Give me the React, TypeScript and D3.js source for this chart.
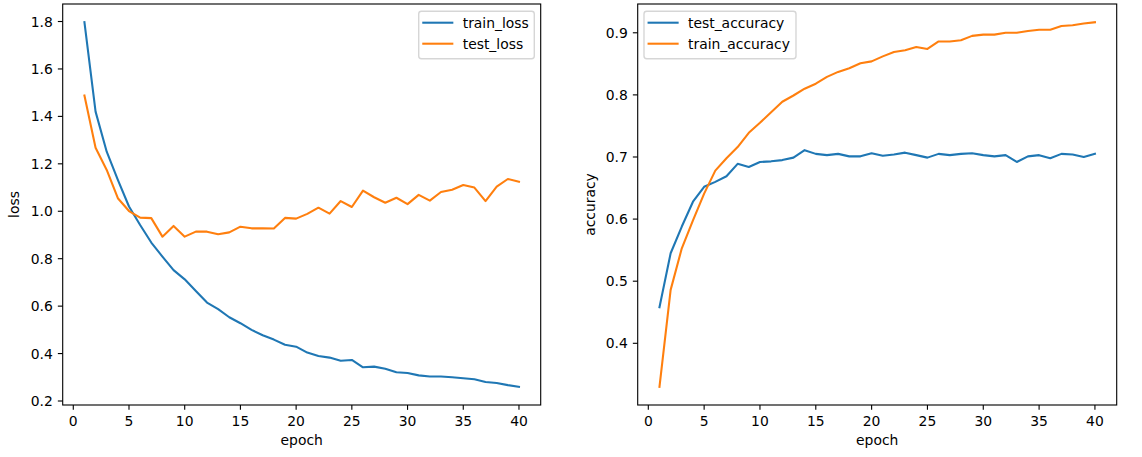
import React from "react";
import * as d3 from "d3";

const epochs = [1,2,3,4,5,6,7,8,9,10,11,12,13,14,15,16,17,18,19,20,21,22,23,24,25,26,27,28,29,30,31,32,33,34,35,36,37,38,39,40];

const trainLoss = [1.797, 1.42, 1.251, 1.132, 1.02, 0.942, 0.868, 0.809, 0.752, 0.713, 0.664, 0.615, 0.587, 0.553, 0.528, 0.5, 0.477, 0.459, 0.437, 0.429, 0.404, 0.39, 0.383, 0.37, 0.373, 0.342, 0.345, 0.336, 0.321, 0.318, 0.308, 0.303, 0.303, 0.3, 0.296, 0.292, 0.28, 0.276, 0.267, 0.26];
const testLoss = [1.488, 1.268, 1.174, 1.055, 1.001, 0.973, 0.971, 0.893, 0.938, 0.893, 0.914, 0.914, 0.903, 0.911, 0.935, 0.928, 0.928, 0.927, 0.972, 0.969, 0.989, 1.015, 0.99, 1.043, 1.018, 1.087, 1.059, 1.036, 1.057, 1.03, 1.069, 1.045, 1.081, 1.091, 1.111, 1.1, 1.043, 1.104, 1.136, 1.124];
const testAcc = [0.458, 0.545, 0.588, 0.628, 0.652, 0.66, 0.669, 0.689, 0.684, 0.692, 0.693, 0.695, 0.699, 0.711, 0.705, 0.703, 0.705, 0.701, 0.701, 0.706, 0.702, 0.704, 0.707, 0.703, 0.699, 0.705, 0.703, 0.705, 0.706, 0.703, 0.701, 0.703, 0.692, 0.701, 0.703, 0.698, 0.705, 0.704, 0.7, 0.705];
const trainAcc = [0.33, 0.486, 0.553, 0.598, 0.641, 0.678, 0.698, 0.716, 0.739, 0.755, 0.772, 0.789, 0.799, 0.81, 0.818, 0.829, 0.837, 0.843, 0.851, 0.854, 0.862, 0.869, 0.872, 0.877, 0.874, 0.886, 0.886, 0.888, 0.895, 0.897, 0.897, 0.9, 0.9, 0.903, 0.905, 0.905, 0.911, 0.912, 0.915, 0.917];

const xTicks = [0, 5, 10, 15, 20, 25, 30, 35, 40];
const lossTicks = [0.2, 0.4, 0.6, 0.8, 1.0, 1.2, 1.4, 1.6, 1.8];
const accTicks = [0.4, 0.5, 0.6, 0.7, 0.8, 0.9];

const BLUE = "#1f77b4";
const ORANGE = "#ff7f0e";
const FONT = "DejaVu Sans";
const FS = 13.9;

type Series = { name: string; values: number[]; color: string };

function Panel(props: {
  left: number; right: number; top: number; bottom: number;
  series: Series[]; yTicks: number[]; yFmt: (v: number) => string;
  ylabel: string; ylabelX: number; legendX: number; legendW: number;
}) {
  const { left, right, top, bottom, series, yTicks, yFmt, ylabel, ylabelX, legendX, legendW } = props;
  const all = series.flatMap((s) => s.values);
  const mn = d3.min(all)!, mx = d3.max(all)!;
  const m = (mx - mn) * 0.05;
  const x = d3.scaleLinear().domain([-0.95, 41.95]).range([left, right]);
  const y = d3.scaleLinear().domain([mn - m, mx + m]).range([bottom, top]);
  const line = d3.line<number>().x((_, i) => x(epochs[i])).y((d) => y(d));
  const tl = 4.86;
  const legendY = top + 7.3;
  return (
    <g>
      {series.map((s) => (
        <path key={s.name} d={line(s.values)!} fill="none" stroke={s.color} strokeWidth={2.08} strokeLinejoin="round" strokeLinecap="square" />
      ))}
      <rect x={left} y={top} width={right - left} height={bottom - top} fill="none" stroke="#000" strokeWidth={1.11} />
      {xTicks.map((t) => (
        <g key={"x" + t}>
          <line x1={x(t)} x2={x(t)} y1={bottom} y2={bottom + tl} stroke="#000" strokeWidth={1.11} />
          <text x={x(t)} y={bottom + 21} textAnchor="middle" fontFamily={FONT} fontSize={FS} fill="#000">{t}</text>
        </g>
      ))}
      {yTicks.map((t) => (
        <g key={"y" + t}>
          <line x1={left - tl} x2={left} y1={y(t)} y2={y(t)} stroke="#000" strokeWidth={1.11} />
          <text x={left - 9.9} y={y(t) + 5} textAnchor="end" fontFamily={FONT} fontSize={FS} fill="#000">{yFmt(t)}</text>
        </g>
      ))}
      <text x={(left + right) / 2} y={bottom + 40} textAnchor="middle" fontFamily={FONT} fontSize={FS} fill="#000">epoch</text>
      <text transform={`translate(${ylabelX},${(top + bottom) / 2}) rotate(-90)`} textAnchor="middle" fontFamily={FONT} fontSize={FS} fill="#000">{ylabel}</text>
      <rect x={legendX} y={legendY} width={legendW} height={47.4} rx={2.8} ry={2.8} fill="#fff" fillOpacity={0.8} stroke="#cccccc" strokeOpacity={0.8} strokeWidth={1.39} />
      {series.map((s, i) => (
        <g key={"lg" + s.name}>
          <line x1={legendX + 4.6} x2={legendX + 33.6} y1={legendY + 11.4 + i * 21} y2={legendY + 11.4 + i * 21} stroke={s.color} strokeWidth={2.08} strokeLinecap="square" />
          <text x={legendX + 44} y={legendY + 16.4 + i * 21} fontFamily={FONT} fontSize={FS} fill="#000">{s.name}</text>
        </g>
      ))}
    </g>
  );
}

export default function App() {
  return (
    <svg width={1142} height={457} style={{ position: "absolute", left: 0, top: 0, background: "#fff" }}>
      <rect x={0} y={0} width={1142} height={457} fill="#fff" />
      <Panel left={62.7} right={540.7} top={4} bottom={405}
        series={[{ name: "train_loss", values: trainLoss, color: BLUE }, { name: "test_loss", values: testLoss, color: ORANGE }]}
        yTicks={lossTicks} yFmt={(v) => v.toFixed(1)} ylabel="loss" ylabelX={19} legendX={418.7} legendW={115.6} />
      <Panel left={637.7} right={1116.7} top={4} bottom={405}
        series={[{ name: "test_accuracy", values: testAcc, color: BLUE }, { name: "train_accuracy", values: trainAcc, color: ORANGE }]}
        yTicks={accTicks} yFmt={(v) => v.toFixed(1)} ylabel="accuracy" ylabelX={595} legendX={644} legendW={152} />
    </svg>
  );
}
